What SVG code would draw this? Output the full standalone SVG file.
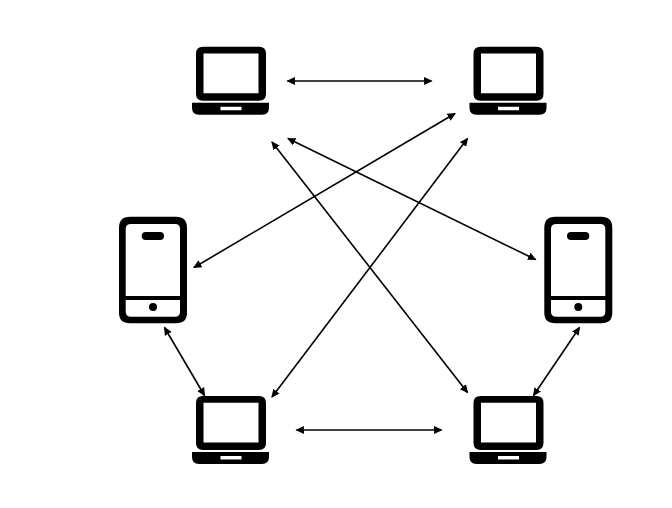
<svg xmlns="http://www.w3.org/2000/svg" width="672" height="508" viewBox="0 0 672 508">
<style>
.c{fill:none;stroke:#000;stroke-width:1.6;marker-start:url(#a);marker-end:url(#a)}
</style>
<defs>
<marker id="a" viewBox="0 0 8 8" refX="7" refY="4" markerWidth="8.500" markerHeight="8.500" markerUnits="userSpaceOnUse" orient="auto-start-reverse"><path d="M0 0.300L8 4L0 7.700Z" fill="#000"/></marker>
<g id="laptop">
<path fill-rule="evenodd" d="M12 0H68Q75 0 75 7V47Q75 54 68 54H12Q5 54 5 47V7Q5 0 12 0ZM12.500 6.700V46.500H67.500V6.700Z"/>
<path fill-rule="evenodd" d="M1 56H78V61Q78 68 71 68H8Q1 68 1 61V57Q1 56 1 56ZM29.500 60V63.500H50.500V60Z"/>
</g>
<g id="phone">
<path fill-rule="evenodd" d="M11 0H57Q68 0 68 11V96Q68 106.500 57 106.500H11Q0 106.500 0 96V11Q0 0 11 0ZM12 7.300Q6.700 7.300 6.700 12V79.300H61V12Q61 7.300 56 7.300ZM6.700 83.300V95Q6.700 100 12 100H56Q61 100 61 95V83.300Z"/>
<rect x="22.700" y="15.300" width="22.300" height="8" rx="4"/>
<circle cx="34" cy="90.300" r="4"/>
</g>
</defs>
<g id="connectors">
<line class="c" x1="287.500" y1="81" x2="431.500" y2="81"/>
<line class="c" x1="296.500" y1="430" x2="441.500" y2="430"/>
<line class="c" x1="194" y1="267.500" x2="455" y2="113.500"/>
<line class="c" x1="288" y1="138.500" x2="535.500" y2="259.500"/>
<line class="c" x1="272" y1="142" x2="467.500" y2="392.500"/>
<line class="c" x1="272" y1="397" x2="467.500" y2="138.500"/>
<line class="c" x1="164.500" y1="327.500" x2="204.500" y2="395.500"/>
<line class="c" x1="579.500" y1="327.500" x2="533.500" y2="395.500"/>
</g>
<use id="laptop-top-left" href="#laptop" x="191" y="46.700"/>
<use id="laptop-top-right" href="#laptop" x="468.500" y="46.700"/>
<use id="phone-left" href="#phone" x="119" y="216.700"/>
<use id="phone-right" href="#phone" x="544.300" y="216.700"/>
<use id="laptop-bottom-left" href="#laptop" x="191" y="396"/>
<use id="laptop-bottom-right" href="#laptop" x="468.500" y="396"/>
</svg>
